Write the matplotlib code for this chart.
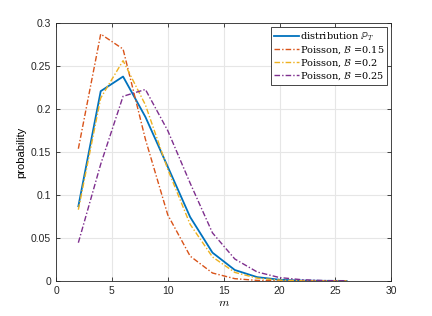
import numpy as np
import matplotlib.pyplot as plt

plt.rcParams['font.family'] = ['Liberation Sans', 'DejaVu Sans']
plt.rcParams['mathtext.fontset'] = 'cm'

# valeurs
m = [2, 4, 6, 8, 10, 12, 14, 16, 18, 20, 22, 24, 26]
p_T = [0.087, 0.221, 0.238, 0.191, 0.133, 0.0745, 0.033, 0.0128, 0.0045, 0.0015, 0.0005, 0.0002, 0.0001]
pois_015 = [0.154, 0.2875, 0.270, 0.165, 0.077, 0.029, 0.0093, 0.0027, 0.0007, 0.0002, 0.0, 0.0, 0.0]
pois_02 = [0.083, 0.213, 0.2565, 0.205, 0.130, 0.066, 0.028, 0.010, 0.0033, 0.001, 0.0003, 0.0001, 0.0]
pois_025 = [0.0446, 0.136, 0.215, 0.223, 0.175, 0.114, 0.056, 0.0256, 0.0105, 0.004, 0.0015, 0.0005, 0.0002]

fig = plt.figure(figsize=(4.32, 3.16), dpi=100)
ax = fig.add_axes([56/432, 35/316, 335.3/432, 257.7/316])

dd = (4, 1.5, 1, 1.5)
ax.plot(m, p_T, color='#0072BD', lw=1.3, label=r'distribution $\mathbb{P}_T$')
ax.plot(m, pois_015, color='#D95319', lw=1.0, ls=(0, dd), label=r'Poisson, $\mathcal{B}$ =0.15')
ax.plot(m, pois_02, color='#EDB120', lw=1.0, ls=(0, dd), label=r'Poisson, $\mathcal{B}$ =0.2')
ax.plot(m, pois_025, color='#7E2F8E', lw=1.0, ls=(0, dd), label=r'Poisson, $\mathcal{B}$ =0.25')

ax.set_xlim(0, 30)
ax.set_ylim(0, 0.3)
ax.set_xticks(np.arange(0, 31, 5))
ax.set_yticks(np.arange(0, 0.31, 0.05))
ax.set_yticklabels(['0', '0.05', '0.1', '0.15', '0.2', '0.25', '0.3'])
ax.grid(True, color='#e6e6e6', lw=0.8)
ax.set_axisbelow(True)
ax.tick_params(direction='in', top=True, right=True, labelsize=7.5, colors='#262626', length=3, width=0.6)
for s in ax.spines.values():
    s.set_color('#262626')
    s.set_linewidth(0.6)

ax.set_xlabel('$m$', fontsize=8.5, labelpad=1)
ax.set_ylabel('probability', fontsize=8, labelpad=3)

leg = ax.legend(loc='upper right', prop={'family': 'serif', 'size': 7}, fancybox=False,
                framealpha=1, edgecolor='#262626', borderpad=0.3, handlelength=2.6,
                handletextpad=0.1, labelspacing=0.15, borderaxespad=0.4)
leg.get_frame().set_linewidth(0.6)

fig.savefig('out.png', dpi=100)
